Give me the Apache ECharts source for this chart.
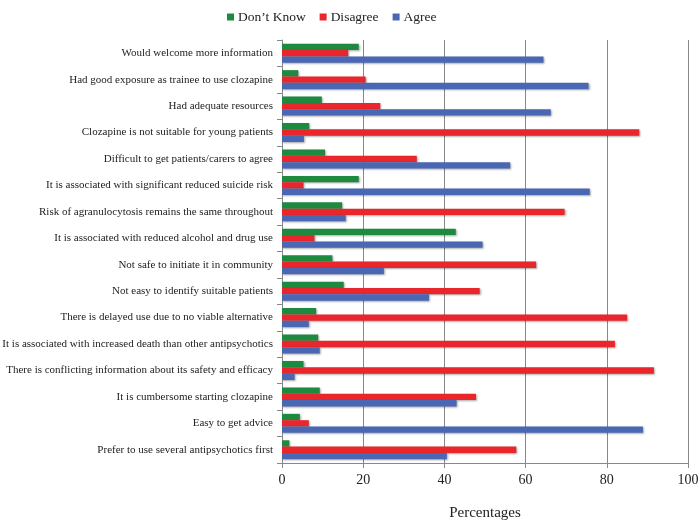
<!DOCTYPE html>
<html><head><meta charset="utf-8">
<script src="https://cdn.jsdelivr.net/npm/echarts@6/dist/echarts.min.js"></script>
<style>html,body{margin:0;padding:0;background:#fff}#c{width:700px;height:521px}</style>
</head><body><div id="c"></div>
<script>
const categories = [
  "Would welcome more information",
  "Had good exposure as trainee to use clozapine",
  "Had adequate resources",
  "Clozapine is not suitable for young patients",
  "Difficult to get patients/carers to agree",
  "It is associated with significant reduced suicide risk",
  "Risk of agranulocytosis remains the same throughout",
  "It is associated with reduced alcohol and drug use",
  "Not safe to initiate it in community",
  "Not easy to identify suitable patients",
  "There is delayed use due to no viable alternative",
  "It is associated with increased death than other antipsychotics",
  "There is conflicting information about its safety and efficacy",
  "It is cumbersome starting clozapine",
  "Easy to get advice",
  "Prefer to use several antipsychotics first"
];
const dontKnow = [18.9, 4.0, 9.8, 6.7, 10.6, 18.9, 14.8, 42.8, 12.4, 15.2, 8.4, 8.9, 5.3, 9.3, 4.4, 1.8];
const disagree = [16.3, 20.6, 24.2, 88.0, 33.2, 5.3, 69.6, 8.0, 62.6, 48.7, 85.0, 82.0, 91.6, 47.8, 6.6, 57.7];
const agree = [64.4, 75.5, 66.2, 5.4, 56.2, 75.8, 15.7, 49.4, 25.1, 36.2, 6.6, 9.3, 3.1, 43.0, 88.9, 40.6];
const xTicks = [0, 20, 40, 60, 80, 100];

const font = "'Liberation Serif', 'DejaVu Serif', serif";
const chart = echarts.init(document.getElementById('c'), null, {renderer: 'canvas'});
const shadow = {shadowColor: 'rgba(0,0,0,0.35)', shadowBlur: 2, shadowOffsetX: 1, shadowOffsetY: 1};
function mk(name, data, color) {
  return {name, type: 'bar', data, barGap: '0%', barCategoryGap: '28%',
    itemStyle: Object.assign({color}, shadow), emphasis: {disabled: true}};
}
chart.setOption({
  animation: false,
  textStyle: {fontFamily: font},
  legend: {
    top: 5, left: 222, itemWidth: 7, itemHeight: 7, itemGap: 14,
    icon: 'rect',
    textStyle: {fontFamily: font, fontSize: 13.5, color: '#222', padding: [0, 0, 0, -1]},
    data: ['Don\u2019t Know', 'Disagree', 'Agree']
  },
  grid: {left: 282, right: 12, top: 40, bottom: 58, containLabel: false, outerBoundsMode: 'none'},
  xAxis: {
    type: 'value', min: 0, max: 100, interval: 20,
    name: 'Percentages', nameLocation: 'middle', nameGap: 43,
    nameTextStyle: {fontFamily: font, fontSize: 15, color: '#222'},
    axisLine: {show: true, lineStyle: {color: '#888'}},
    axisTick: {show: true, length: 5, lineStyle: {color: '#888'}},
    axisLabel: {fontFamily: font, fontSize: 14, color: '#222', margin: 10,
      formatter: v => xTicks.includes(v) ? String(v) : ''},
    splitLine: {show: true, lineStyle: {color: '#888', width: 1}}
  },
  yAxis: {
    type: 'category', data: categories, inverse: true,
    axisLine: {show: true, lineStyle: {color: '#888'}},
    axisTick: {show: true, length: 5, lineStyle: {color: '#888'}},
    axisLabel: {fontFamily: font, fontSize: 11, color: '#222', margin: 9}
  },
  series: [
    mk('Don\u2019t Know', dontKnow, '#1e8a40'),
    mk('Disagree', disagree, '#e8262b'),
    mk('Agree', agree, '#4a67b4')
  ]
});
</script>
</body></html>
